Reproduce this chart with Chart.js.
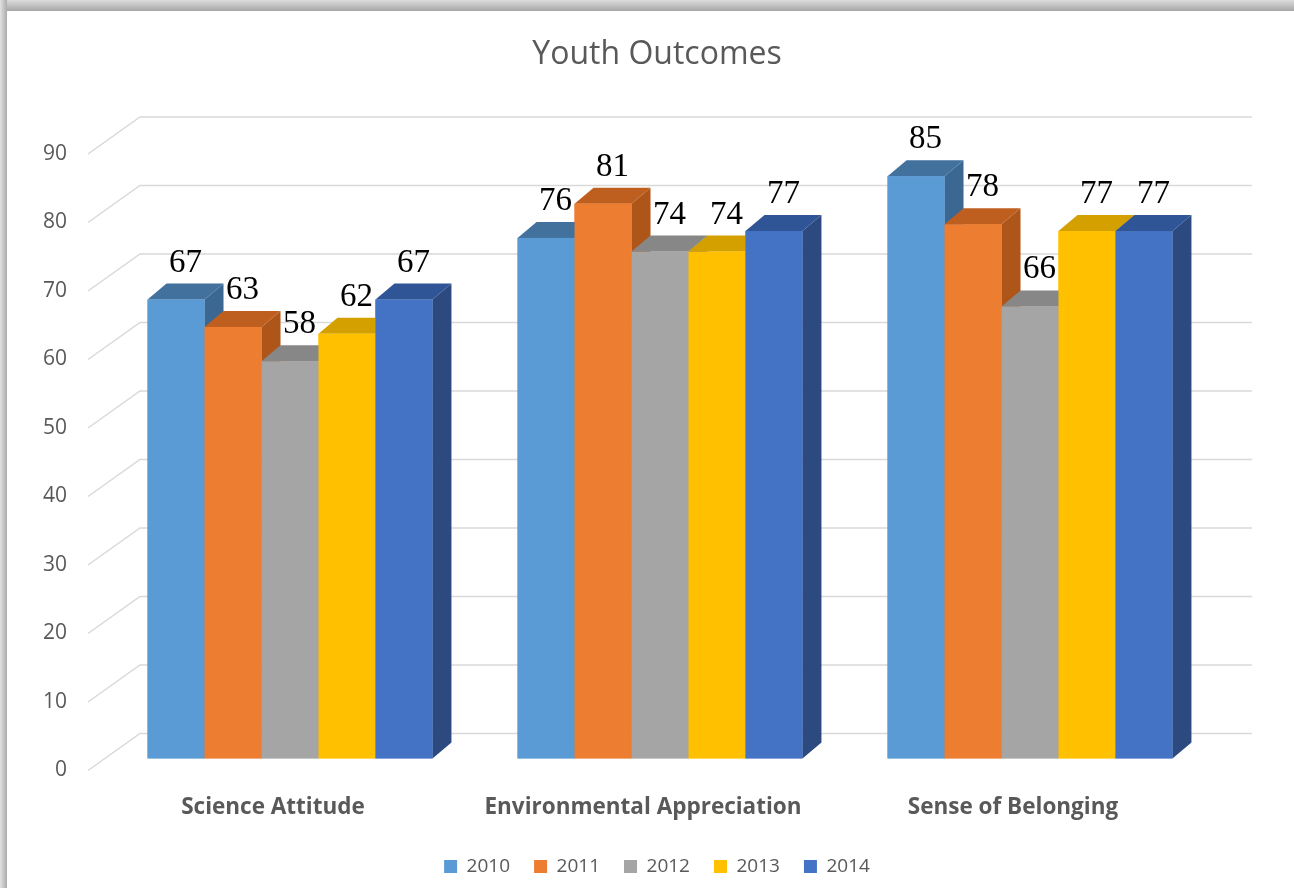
<!DOCTYPE html>
<html><head><meta charset="utf-8">
<script src="https://cdn.jsdelivr.net/npm/chart.js@4/dist/chart.umd.min.js"></script>
<style>
html,body{margin:0;padding:0;background:#fff;width:1294px;height:888px;overflow:hidden}
#top{position:absolute;left:0;top:0;width:1294px;height:11px;background:linear-gradient(to bottom,#dcdcdc,#a6a6a6)}
#left{position:absolute;left:0;top:0;width:7px;height:888px;background:linear-gradient(to right,#e2e2e2,#ababab)}
#wrap{position:absolute;left:0;top:0;width:1294px;height:888px}
</style></head><body>
<div id="top"></div><div id="left"></div>
<div id="wrap"><canvas id="c" width="1294" height="888"></canvas></div>
<script>
const categories = ['Science Attitude', 'Environmental Appreciation', 'Sense of Belonging'];
const seriesNames = ['2010', '2011', '2012', '2013', '2014'];
const v2010 = [67, 76, 85];
const v2011 = [63, 81, 78];
const v2012 = [58, 74, 66];
const v2013 = [62, 74, 77];
const v2014 = [67, 77, 77];
const yTicks = [0, 10, 20, 30, 40, 50, 60, 70, 80, 90];

const seriesValues = [v2010, v2011, v2012, v2013, v2014];
const frontColors = ['#5B9BD5', '#ED7D31', '#A5A5A5', '#FFC000', '#4472C4'];
const topColors   = ['#41719C', '#BE5F1F', '#878787', '#D4A000', '#2F5597'];
const sideColors  = ['#3B6893', '#AE5619', '#7B7B7B', '#C29200', '#2C4A80'];

const DX = 19, DY = 16;

const bars3d = {
  id: 'bars3d',
  beforeDatasetsDraw(chart) {
    const {ctx, chartArea: ca, scales: {y}} = chart;
    ctx.save();
    ctx.strokeStyle = '#d9d9d9';
    ctx.lineWidth = 1.5;
    yTicks.forEach(v => {
      const yp = y.getPixelForValue(v);
      ctx.beginPath();
      ctx.moveTo(ca.left - 17, yp + 12);
      ctx.lineTo(ca.left + 35, yp - 25);
      ctx.lineTo(ca.right + 37, yp - 25);
      ctx.stroke();
    });
    ctx.restore();
  },
  afterDatasetsDraw(chart) {
    const ctx = chart.ctx;
    const n = chart.data.labels.length;
    ctx.save();
    for (let c = 0; c < n; c++) {
      chart.data.datasets.forEach((ds, i) => {
        const el = chart.getDatasetMeta(i).data[c];
        const {x, y, base, width} = el.getProps(['x', 'y', 'base', 'width'], true);
        const l = x - width / 2, r = x + width / 2;
        ctx.fillStyle = sideColors[i];
        ctx.beginPath();
        ctx.moveTo(r, y); ctx.lineTo(r + DX, y - DY); ctx.lineTo(r + DX, base - DY); ctx.lineTo(r, base);
        ctx.closePath(); ctx.fill();
        ctx.fillStyle = topColors[i];
        ctx.beginPath();
        ctx.moveTo(l, y); ctx.lineTo(l + DX, y - DY); ctx.lineTo(r + DX, y - DY); ctx.lineTo(r, y);
        ctx.closePath(); ctx.fill();
        ctx.fillStyle = frontColors[i];
        ctx.fillRect(l, y, width, base - y);
      });
    }
    ctx.font = '33px "Liberation Serif"';
    ctx.fillStyle = '#000';
    ctx.textAlign = 'center';
    ctx.textBaseline = 'alphabetic';
    chart.data.datasets.forEach((ds, i) => {
      chart.getDatasetMeta(i).data.forEach((el, c) => {
        ctx.fillText(String(ds.data[c]), el.x + DX / 2, el.y - 28);
      });
    });
    ctx.restore();
  }
};

new Chart(document.getElementById('c'), {
  type: 'bar',
  data: {
    labels: categories,
    datasets: seriesNames.map((name, i) => ({
      label: name,
      data: seriesValues[i],
      backgroundColor: frontColors[i],
      borderWidth: 0,
      categoryPercentage: 0.77,
      barPercentage: 1.0
    }))
  },
  options: {
    responsive: false,
    animation: false,
    layout: {padding: {top: 11, left: 30, right: 10, bottom: 2}},
    plugins: {
      title: {
        display: true,
        text: 'Youth Outcomes',
        color: '#595959',
        font: {family: 'Open Sans', size: 32, weight: 'normal'},
        padding: {top: 25, bottom: 67.6}
      },
      legend: {
        position: 'bottom',
        labels: {
          color: '#595959',
          font: {family: 'Open Sans', size: 19},
          boxWidth: 13, boxHeight: 13,
          padding: 24
        }
      },
      tooltip: {enabled: false}
    },
    scales: {
      x: {
        grid: {display: false, drawTicks: false},
        border: {display: false},
        ticks: {
          color: '#595959',
          font: {family: 'Open Sans', size: 22.5, weight: 'bold'},
          padding: 36,
          labelOffset: -17,
          maxRotation: 0
        },
        afterFit(s) { s.height = 74.5; }
      },
      y: {
        min: 0, max: 90,
        grid: {display: false, drawTicks: false},
        border: {display: false},
        ticks: {
          stepSize: 10,
          color: '#595959',
          font: {family: 'Open Sans', size: 21},
          padding: 38,
          labelOffset: 12
        },
        afterFit(s) { s.width = 75; }
      },
      y2: {
        position: 'right',
        min: 0, max: 90,
        grid: {display: false, drawTicks: false},
        border: {display: false},
        ticks: {display: false},
        afterFit(s) { s.width = 69; }
      }
    }
  },
  plugins: [bars3d]
});
</script>
</body></html>
